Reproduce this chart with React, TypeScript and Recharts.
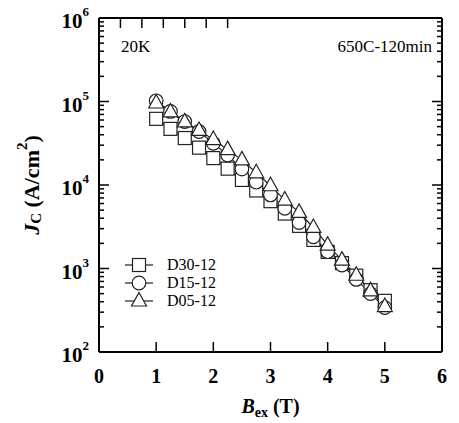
import { Label, Legend, Line, LineChart, XAxis, YAxis } from "recharts";

const fields = [1, 1.25, 1.5, 1.75, 2, 2.25, 2.5, 2.75, 3, 3.25, 3.5, 3.75, 4, 4.25, 4.5, 4.75, 5];
const d30 = [62000, 47000, 36500, 28000, 21000, 15700, 11500, 8600, 6400, 4550, 3240, 2200, 1580, 1160, 820, 550, 410];
const d15 = [102000, 76000, 57500, 43700, 31600, 22800, 15500, 10800, 7600, 5250, 3550, 2400, 1590, 1100, 740, 500, 340];
const d05 = [96000, 75000, 57000, 45000, 35000, 26500, 20000, 14000, 9800, 6600, 4700, 3100, 1900, 1260, 830, 540, 350];

const xTicks = [0, 1, 2, 3, 4, 5, 6];
const decades = [100, 1000, 10000, 100000, 1000000];
const minorSteps = [2, 3, 4, 5, 6, 7, 8, 9];

const yTicks = decades.flatMap((d, i) => (i < decades.length - 1 ? [d, ...minorSteps.map((m) => d * m)] : [d]));

const data = fields.map((b, i) => ({ b, d30: d30[i], d15: d15[i], d05: d05[i] }));

const series = [
  { key: "d30", name: "D30-12", shape: "square" },
  { key: "d15", name: "D15-12", shape: "circle" },
  { key: "d05", name: "D05-12", shape: "triangle" },
];

const FONT = "'Liberation Serif', 'Times New Roman', serif";
const INK = "#000";
const MARK = "#222";

function Marker({ cx, cy, shape }: { cx: number; cy: number; shape: string }) {
  if (shape === "square") {
    return <rect x={cx - 6.5} y={cy - 6.5} width={13} height={13} fill="#fff" stroke={MARK} strokeWidth={1.2} />;
  }
  if (shape === "circle") {
    return <circle cx={cx} cy={cy} r={6.8} fill="#fff" stroke={MARK} strokeWidth={1.2} />;
  }
  return (
    <polygon
      points={`${cx},${cy - 8.5} ${cx + 7.5},${cy + 5} ${cx - 7.5},${cy + 5}`}
      fill="#fff"
      stroke={MARK}
      strokeWidth={1.2}
    />
  );
}

const isMajor = (v: number) => decades.includes(v);

function BottomTick({ x, y, payload }: any) {
  return (
    <g>
      <line x1={x} x2={x} y1={y} y2={y - 10} stroke={INK} strokeWidth={1.5} />
      <text x={x} y={y + 31} textAnchor="middle" fontFamily={FONT} fontWeight="bold" fontSize={20} fill={INK}>
        {payload.value}
      </text>
    </g>
  );
}

function TopTick({ x, y }: any) {
  return <line x1={x} x2={x} y1={y} y2={y + 10} stroke={INK} strokeWidth={1.5} />;
}

function LeftTick({ x, y, payload }: any) {
  const v = payload.value;
  const major = isMajor(v);
  const exp = Math.round(Math.log10(v));
  return (
    <g>
      <line x1={x} x2={x + (major ? 10 : 5)} y1={y} y2={y} stroke={INK} strokeWidth={1.5} />
      {major && (
        <text x={x - 10} y={y + 10} textAnchor="end" fontFamily={FONT} fontWeight="bold" fontSize={21} fill={INK}>
          10
          <tspan dy={-12} fontSize={13}>
            {exp}
          </tspan>
        </text>
      )}
    </g>
  );
}

function RightTick({ x, y, payload }: any) {
  const major = isMajor(payload.value);
  return <line x1={x} x2={x - (major ? 10 : 5)} y1={y} y2={y} stroke={INK} strokeWidth={1.5} />;
}

function renderLegend() {
  return (
    <svg width={120} height={60} style={{ display: "block" }}>
      {series.map((s, i) => {
        const cy = 9 + i * 18;
        return (
          <g key={s.key}>
            <line x1={5} x2={33} y1={cy} y2={cy} stroke={MARK} strokeWidth={1.2} />
            <Marker cx={19} cy={cy} shape={s.shape} />
            <text x={47} y={cy + 5} fontFamily={FONT} fontSize={16} fill={INK}>
              {s.name}
            </text>
          </g>
        );
      })}
    </svg>
  );
}

const axisLine = { stroke: INK, strokeWidth: 2 };

export default function App() {
  return (
    <div style={{ position: "absolute", left: 0, top: 0, background: "#fff" }}>
      <LineChart width={459} height={423} data={data} margin={{ top: 17, right: 16, bottom: 0, left: 0 }}>
        <XAxis
          dataKey="b"
          type="number"
          domain={[0, 6]}
          ticks={xTicks}
          interval={0}
          tickSize={0}
          tickMargin={0}
          tick={BottomTick}
          axisLine={axisLine}
          height={71}
        >
          <Label
            content={({ viewBox }: any) => (
              <text
                x={viewBox.x + viewBox.width / 2}
                y={viewBox.y + 61}
                textAnchor="middle"
                fontFamily={FONT}
                fontWeight="bold"
                fontSize={20}
                fill={INK}
              >
                <tspan fontStyle="italic">B</tspan>
                <tspan dy={4} fontSize={14}>ex</tspan>
                <tspan dy={-4}> (T)</tspan>
              </text>
            )}
          />
        </XAxis>
        <XAxis
          xAxisId="top"
          orientation="top"
          type="number"
          domain={[0, 6]}
          ticks={xTicks}
          interval={0}
          tickSize={0}
          tickMargin={0}
          tick={TopTick}
          axisLine={axisLine}
          height={1}
        />
        <YAxis
          type="number"
          scale="log"
          domain={[100, 1000000]}
          allowDataOverflow
          ticks={yTicks}
          interval={0}
          tickSize={0}
          tickMargin={0}
          tick={LeftTick}
          axisLine={axisLine}
          width={99}
        >
          <Label
            content={({ viewBox }: any) => {
              const cx = 31;
              const cy = viewBox.y + viewBox.height / 2;
              return (
                <text
                  x={cx}
                  y={cy}
                  transform={`rotate(-90 ${cx} ${cy})`}
                  textAnchor="middle"
                  dominantBaseline="central"
                  fontFamily={FONT}
                  fontWeight="bold"
                  fontSize={22}
                  fill={INK}
                >
                  <tspan fontStyle="italic">J</tspan>
                  <tspan dy={5} fontSize={15}>C</tspan>
                  <tspan dy={-5}> (A/cm</tspan>
                  <tspan dy={-9} fontSize={15}>2</tspan>
                  <tspan dy={9}>)</tspan>
                </text>
              );
            }}
          />
        </YAxis>
        <YAxis
          yAxisId="right"
          orientation="right"
          type="number"
          scale="log"
          domain={[100, 1000000]}
          allowDataOverflow
          ticks={yTicks}
          interval={0}
          tickSize={0}
          tickMargin={0}
          tick={RightTick}
          axisLine={axisLine}
          width={1}
        />
        <Legend
          layout="horizontal"
          verticalAlign="middle"
          align="center"
          content={renderLegend}
          wrapperStyle={{ left: 120, top: 256, width: 120 }}
        />
        {series.map((s) => (
          <Line
            key={s.key}
            dataKey={s.key}
            name={s.name}
            type="linear"
            stroke={MARK}
            strokeWidth={1.2}
            isAnimationActive={false}
            dot={(p: any) => <Marker key={`${s.key}-${p.index}`} cx={p.cx} cy={p.cy} shape={s.shape} />}
          />
        ))}
        <text x={121} y={52} fontFamily={FONT} fontSize={17} fill={INK}>
          20K
        </text>
        <text x={432} y={52} textAnchor="end" fontFamily={FONT} fontSize={17} fill={INK}>
          650C-120min
        </text>
      </LineChart>
    </div>
  );
}
